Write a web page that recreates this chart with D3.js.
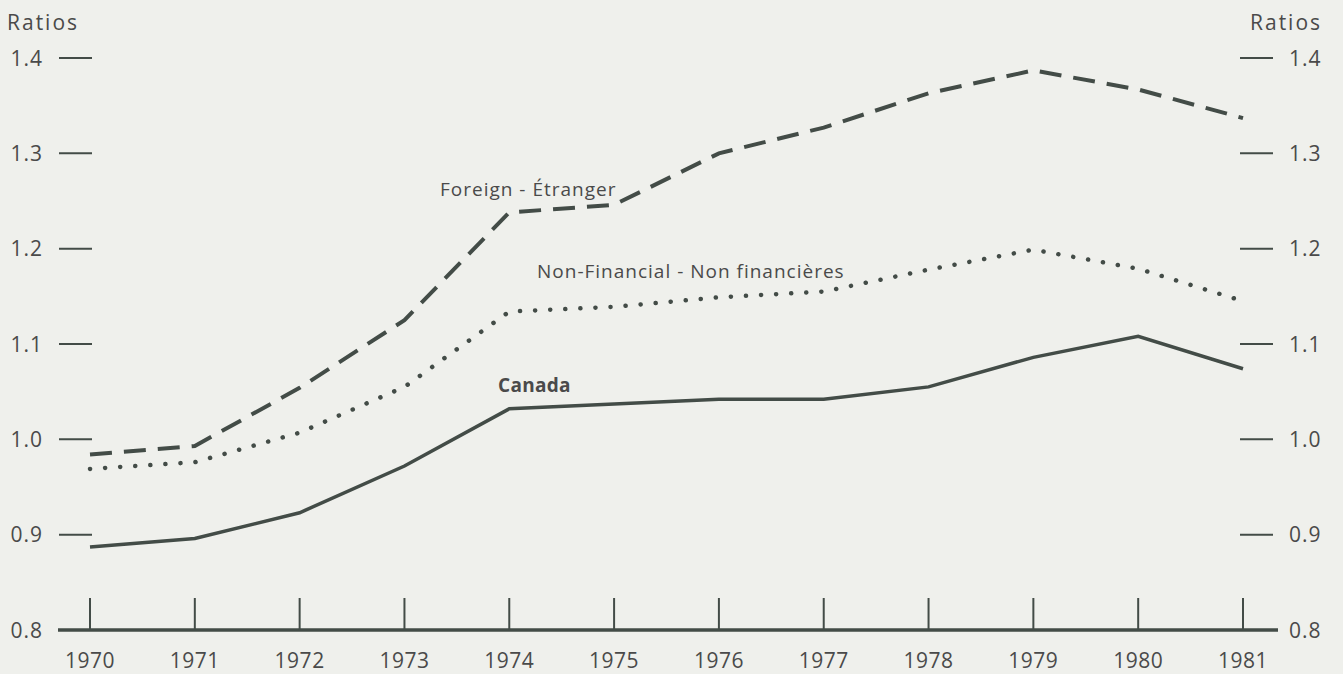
<!DOCTYPE html>
<html>
<head>
<meta charset="utf-8">
<script src="https://cdn.jsdelivr.net/npm/d3@7"></script>
<style>
  body { margin: 0; background: #eff0ec; }
  svg { display: block; }
  text { font-family: "Open Sans", "Noto Sans", sans-serif; fill: #4a4a4a; }
</style>
</head>
<body>
<div id="chart"></div>
<script>
var years = [1970, 1971, 1972, 1973, 1974, 1975, 1976, 1977, 1978, 1979, 1980, 1981];
var canada = [0.887, 0.896, 0.923, 0.972, 1.032, 1.037, 1.042, 1.042, 1.055, 1.086, 1.108, 1.074];
var foreign = [0.984, 0.993, 1.054, 1.125, 1.238, 1.246, 1.300, 1.327, 1.363, 1.387, 1.367, 1.337];
var nonFinancial = [0.969, 0.976, 1.007, 1.055, 1.134, 1.139, 1.149, 1.155, 1.178, 1.199, 1.179, 1.145];
var yTicks = [0.8, 0.9, 1.0, 1.1, 1.2, 1.3, 1.4];

var width = 1343, height = 674;
var ink = "#434c47";

var svg = d3.select("#chart").append("svg")
  .attr("width", width)
  .attr("height", height);

// scales
var x = d3.scaleLinear().domain([1970, 1981]).range([90, 1243]);
var y = d3.scaleLinear().domain([0.8, 1.4]).range([630, 58]);

// left y ticks
var left = svg.append("g");
left.selectAll("line").data(yTicks.slice(1)).enter().append("line")
  .attr("x1", 59).attr("x2", 92)
  .attr("y1", function (d) { return y(d); })
  .attr("y2", function (d) { return y(d); })
  .attr("stroke", ink).attr("stroke-width", 2);
left.selectAll("text").data(yTicks).enter().append("text")
  .attr("x", 43)
  .attr("y", function (d) { return y(d) + 7.5; })
  .attr("text-anchor", "end")
  .style("font-size", "21px").style("letter-spacing", "1px")
  .text(function (d) { return d.toFixed(1); });
svg.append("text").attr("x", 7).attr("y", 30)
  .style("font-size", "21px").style("letter-spacing", "2px").text("Ratios");

// right y ticks
var right = svg.append("g");
right.selectAll("line").data(yTicks.slice(1)).enter().append("line")
  .attr("x1", 1240).attr("x2", 1273)
  .attr("y1", function (d) { return y(d); })
  .attr("y2", function (d) { return y(d); })
  .attr("stroke", ink).attr("stroke-width", 2);
right.selectAll("text").data(yTicks).enter().append("text")
  .attr("x", 1289)
  .attr("y", function (d) { return y(d) + 7.5; })
  .style("font-size", "21px").style("letter-spacing", "1px")
  .text(function (d) { return d.toFixed(1); });
svg.append("text").attr("x", 1250).attr("y", 30)
  .style("font-size", "21px").style("letter-spacing", "2px").text("Ratios");

// x axis baseline and ticks
svg.append("line")
  .attr("x1", 58).attr("x2", 1278)
  .attr("y1", y(0.8)).attr("y2", y(0.8))
  .attr("stroke", ink).attr("stroke-width", 3.5);
svg.append("g").selectAll("line").data(years).enter().append("line")
  .attr("x1", function (d) { return x(d); })
  .attr("x2", function (d) { return x(d); })
  .attr("y1", y(0.8) - 32).attr("y2", y(0.8))
  .attr("stroke", ink).attr("stroke-width", 2);
svg.append("g").selectAll("text").data(years).enter().append("text")
  .attr("x", function (d) { return x(d); })
  .attr("y", 668)
  .attr("text-anchor", "middle")
  .style("font-size", "21px").style("letter-spacing", "0.5px")
  .text(function (d) { return d; });

// series lines
var line = d3.line()
  .x(function (d, i) { return x(years[i]); })
  .y(function (d) { return y(d); });

svg.append("path").datum(canada)
  .attr("d", line).attr("fill", "none")
  .attr("stroke", ink).attr("stroke-width", 3.5);

svg.append("path").datum(foreign)
  .attr("d", line).attr("fill", "none")
  .attr("stroke", ink).attr("stroke-width", 4)
  .attr("stroke-dasharray", "22,12");

svg.append("path").datum(nonFinancial)
  .attr("d", line).attr("fill", "none")
  .attr("stroke", ink).attr("stroke-width", 4.5)
  .attr("stroke-linecap", "round")
  .attr("stroke-dasharray", "0.1,15");

// series labels
svg.append("text").attr("x", 440).attr("y", 196)
  .style("font-size", "19px").style("letter-spacing", "1px").text("Foreign - Étranger");
svg.append("text").attr("x", 537).attr("y", 278)
  .style("font-size", "19px").style("letter-spacing", "1px").text("Non-Financial - Non financières");
svg.append("text").attr("x", 498).attr("y", 392)
  .style("font-size", "19px").style("font-weight", "bold").style("letter-spacing", "0.3px").text("Canada");
</script>
</body>
</html>
